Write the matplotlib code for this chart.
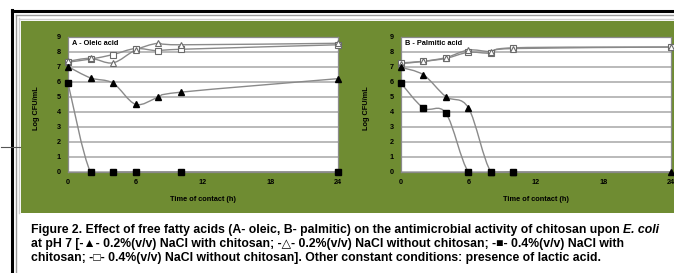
import numpy as np
import matplotlib
matplotlib.use('Agg')
import matplotlib.pyplot as plt
from matplotlib.path import Path
from matplotlib.patches import PathPatch, Rectangle
from matplotlib.lines import Line2D

plt.rcParams['font.family'] = ['Liberation Sans', 'DejaVu Sans']

# time of contact (h)
hours = [0, 2, 4, 6, 8, 10, 24]
x_ticks = [0, 6, 12, 18, 24]

# A - oleic acid
oleic_tri_fill = [7.0, 6.25, 5.9, 4.5, 4.95, 5.3, 6.2]
oleic_tri_open = [7.35, 7.55, 7.25, 8.1, 8.55, 8.45, 8.55]
oleic_sq_fill = [5.9, 0, 0, 0, np.nan, 0, 0]
oleic_sq_open = [7.3, 7.5, 7.8, 8.2, 8.05, 8.15, 8.45]

# B - palmitic acid
palm_tri_fill = [6.95, 6.45, 5.0, 4.25, 0, 0, 0]
palm_tri_open = [7.2, 7.35, 7.6, 8.1, 8.0, 8.2, 8.3]
palm_sq_fill = [5.9, 4.25, 3.9, 0, 0, 0, np.nan]
palm_sq_open = [7.25, 7.35, 7.55, 7.95, 7.9, 8.25, 8.3]

caption_1 = "Figure 2. Effect of free fatty acids (A- oleic, B- palmitic) on the antimicrobial activity of chitosan upon "
caption_1b = "E. coli"
caption_2 = "at pH 7 [-\u25B2- 0.2%(v/v) NaCl with chitosan; -\u25B3- 0.2%(v/v) NaCl without chitosan; -\u25A0- 0.4%(v/v) NaCl with"
caption_3 = "chitosan; -\u25A1- 0.4%(v/v) NaCl without chitosan]. Other constant conditions: presence of lactic acid."

green = '#6f8c32'
line_grey = '#8a8a8a'

W, H = 674, 273
fig = plt.figure(figsize=(W / 100, H / 100), dpi=100)


def fx(px):
    return px / W


def fy(py):
    return 1 - py / H


def smooth_line(ax, xs, ys, color):
    # excel style smoothed line (cardinal spline through the points)
    pts = np.array([(x, y) for x, y in zip(xs, ys) if not np.isnan(y)], dtype=float)
    n = len(pts)
    verts = [pts[0]]
    codes = [Path.MOVETO]
    for i in range(n - 1):
        p_prev = pts[i - 1] if i > 0 else pts[i]
        p_next = pts[i + 2] if i + 2 < n else pts[i + 1]
        c1 = pts[i] + (pts[i + 1] - p_prev) / 6
        c2 = pts[i + 1] - (p_next - pts[i]) / 6
        verts += [c1, c2, pts[i + 1]]
        codes += [Path.CURVE4] * 3
    ax.add_patch(PathPatch(Path(verts, codes), fill=False, edgecolor=color, lw=1.0, zorder=3))


# frame and green panel
fig.patches.append(Rectangle((fx(21), fy(213)), 1 - fx(21), fy(21) - fy(213),
                             transform=fig.transFigure, facecolor=green, edgecolor='none', zorder=-5))
fig.lines.append(Line2D([fx(12), fx(12)], [fy(10), 0], transform=fig.transFigure, color='black', lw=2.2))
fig.lines.append(Line2D([fx(12), 1], [fy(11), fy(11)], transform=fig.transFigure, color='black', lw=2.2))
fig.lines.append(Line2D([fx(15.5), fx(15.5)], [fy(15), 0], transform=fig.transFigure, color='#9a9a9a', lw=1.0))
fig.lines.append(Line2D([fx(15.5), 1], [fy(15), fy(15)], transform=fig.transFigure, color='#9a9a9a', lw=1.0))
fig.lines.append(Line2D([fx(18.5), fx(18.5)], [fy(18), fy(213)], transform=fig.transFigure, color='#cfcfcf', lw=1.0))
fig.lines.append(Line2D([fx(18.5), 1], [fy(18.5), fy(18.5)], transform=fig.transFigure, color='#cfcfcf', lw=1.0))
fig.lines.append(Line2D([fx(1), fx(20)], [fy(147), fy(147)], transform=fig.transFigure, color='#555555', lw=0.8))

panels = [
    (68, 'A - Oleic acid', oleic_tri_fill, oleic_tri_open, oleic_sq_fill, oleic_sq_open, 36),
    (401, 'B - Palmitic acid', palm_tri_fill, palm_tri_open, palm_sq_fill, palm_sq_open, 366),
]

for left, title, tri_f, tri_o, sq_f, sq_o, ylab_x in panels:
    ax = fig.add_axes([fx(left), fy(172), (338 - 68) / W, (172 - 36.5) / H])
    ax.set_zorder(2)
    ax.set_facecolor('white')
    ax.set_xlim(0, 24)
    ax.set_ylim(0, 9)
    ax.set_xticks(x_ticks)
    ax.set_yticks(range(10))
    ax.grid(True, axis='y', color='#b4b4b4', lw=1.3)
    ax.set_axisbelow(True)
    ax.tick_params(length=0, labelsize=5.2, pad=5, colors='black')
    for lab in ax.get_xticklabels() + ax.get_yticklabels():
        lab.set_fontweight('bold')
    for s in ax.spines.values():
        s.set_color('#8a8a8a')
        s.set_linewidth(0.9)

    for ys in (tri_o, sq_o, tri_f, sq_f):
        smooth_line(ax, hours, ys, line_grey)

    ax.plot(hours, sq_o, 's', ms=4.2, mfc='white', mec='#6a6a6a', mew=0.8, clip_on=False, zorder=4)
    ax.plot(hours, tri_o, '^', ms=4.6, mfc='white', mec='#6a6a6a', mew=0.8, clip_on=False, zorder=4)
    ax.plot(hours, tri_f, '^', ms=4.6, color='black', clip_on=False, zorder=5)
    ax.plot(hours, sq_f, 's', ms=4.2, color='black', clip_on=False, zorder=5)

    ax.text(0.4, 8.55, title, fontsize=5.3, fontweight='bold', va='center', ha='left', zorder=6)
    ax.set_xlabel('Time of contact (h)', fontsize=5.3, fontweight='bold', labelpad=7)
    fig.text(fx(ylab_x), fy(108), 'Log CFU/mL', fontsize=5.3, fontweight='bold',
             rotation=90, ha='center', va='center')

# caption
cap_kw = dict(fontsize=8.8, fontweight='bold', va='baseline', ha='left')
t1 = fig.text(fx(31), fy(233), caption_1, **cap_kw)
fig.canvas.draw()
bb = t1.get_window_extent(fig.canvas.get_renderer())
fig.text(bb.x1 / W, fy(233), caption_1b, style='italic', **cap_kw)
fig.text(fx(31), fy(247), caption_2, **cap_kw)
fig.text(fx(31), fy(261), caption_3, **cap_kw)

fig.savefig('out.png', dpi=100)
